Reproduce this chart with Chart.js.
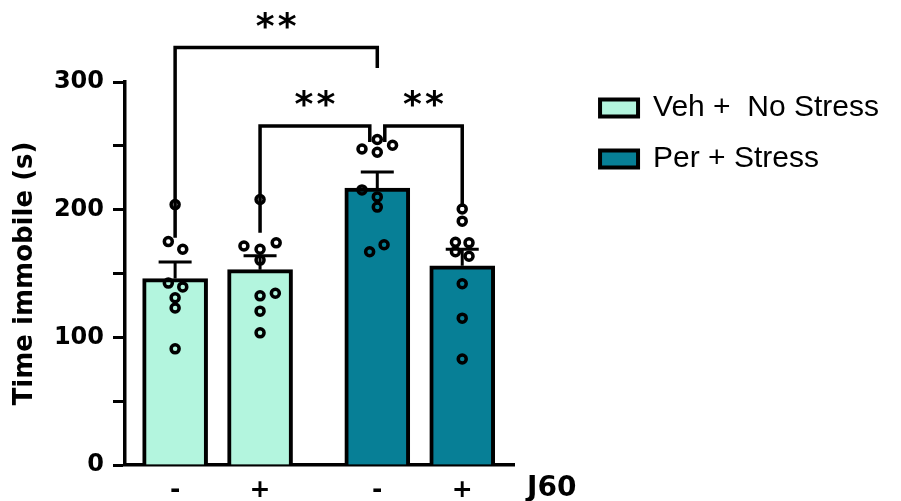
<!DOCTYPE html>
<html>
<head>
<meta charset="utf-8">
<script src="https://cdn.jsdelivr.net/npm/chart.js@4.4.1/dist/chart.umd.min.js"></script>
<style>
  html, body { margin: 0; padding: 0; background: #fff; }
</style>
</head>
<body>
<canvas id="chart" width="901" height="501"></canvas>
<script>
// groups (legend) and bars
const groups = ['Veh +  No Stress', 'Per + Stress'];
const groupFill = ['#b3f5de', '#077f96'];
const xLabels = ['-', '+', '-', '+'];      // J60 treatment under each bar
const barPos = [0, 1, 2.38, 3.38];          // bar centres on the x scale
const barGroup = [0, 0, 1, 1];
const means = [146, 153, 217, 156];
const sem = [13, 11, 12.5, 13];

// individual animals, one list per bar
const pts1 = [204, 175, 169, 142.5, 139.5, 131, 123, 91];
const pts2 = [208, 171.5, 169, 174, 160.5, 132.5, 134.5, 120.5, 103.5];
const pts3 = [255, 247.5, 245, 250.5, 215.5, 210, 202, 172.5, 167];
const pts4 = [200.5, 191, 174.5, 174, 167, 163.5, 142, 115, 83];
// sideways spread of the points (x units)
const jit1 = [0, -0.08, 0.09, -0.08, 0.09, 0, 0, 0];
const jit2 = [0, -0.19, 0, 0.19, 0, 0, 0.18, 0, 0];
const jit3 = [0, -0.18, 0, 0.18, -0.18, 0, 0, 0.08, -0.09];
const jit4 = [0, 0, -0.08, 0.08, -0.08, 0.08, 0, 0, 0];
const points = [pts1, pts2, pts3, pts4];
const jitter = [jit1, jit2, jit3, jit4];

const yTicks = [0, 100, 200, 300];

// significance brackets: bar indices, bracket height, leg ends
const brackets = [
  { from: 0, to: 2, y: 327, yFrom: 178, yTo: 311, text: '**', shiftFrom: 0, shiftTo: 0 },
  { from: 1, to: 2, y: 265.5, yFrom: 182, yTo: 253, text: '**', shiftFrom: 0, shiftTo: -1 },
  { from: 2, to: 3, y: 265.5, yFrom: 253, yTo: 202, text: '**', shiftFrom: 1, shiftTo: 0 }
];

const boldFont = size => ({ family: 'DejaVu Sans', size: size, weight: 'bold' });

const barSets = groups.map((g, gi) => ({
  type: 'bar',
  label: g,
  data: barPos.map((p, i) => ({ x: p, y: means[i], bar: i })).filter(d => barGroup[d.bar] === gi),
  backgroundColor: groupFill[gi],
  borderColor: '#000',
  borderWidth: 4,
  barThickness: 65,
  grouped: false,
  order: 2,
  yAxisID: 'y'
}));

const dotSets = points.map((vals, bi) => ({
  type: 'scatter',
  label: 'pts' + bi,
  data: vals.map((v, k) => ({ x: barPos[bi] + jitter[bi][k], y: v })),
  pointRadius: 4,
  pointBorderWidth: 3.5,
  pointBorderColor: '#000',
  pointBackgroundColor: 'rgba(0,0,0,0)',
  order: 1,
  yAxisID: 'y'
}));

// the legend on the right is capped to a small share of the width by default
const wideLegend = {
  id: 'wideLegend',
  beforeLayout(chart) {
    const lg = chart.legend;
    if (!lg || lg._wide) return;
    const fit = lg.fit;
    lg.fit = function () { this.maxWidth = 400; fit.call(this); };
    lg._wide = true;
  }
};

const annotate = {
  id: 'annotate',
  afterDatasetDraw(chart, args) {
    if (args.meta.type !== 'bar') return;
    const { ctx, scales: { x, y } } = chart;
    ctx.save();
    ctx.strokeStyle = '#000';
    ctx.lineWidth = 3;
    args.meta._dataset.data.forEach(d => {
      const px = x.getPixelForValue(d.x);
      const top = y.getPixelForValue(means[d.bar] + sem[d.bar]);
      ctx.beginPath();
      ctx.moveTo(px, y.getPixelForValue(means[d.bar]));
      ctx.lineTo(px, top);
      ctx.moveTo(px - 16.5, top);
      ctx.lineTo(px + 16.5, top);
      ctx.stroke();
    });
    ctx.restore();
  },
  afterDatasetsDraw(chart) {
    const { ctx, scales: { x, y } } = chart;
    ctx.save();
    ctx.strokeStyle = '#000';
    ctx.fillStyle = '#000';
    ctx.lineWidth = 3.5;
    ctx.lineJoin = 'miter';
    brackets.forEach(b => {
      const x1 = x.getPixelForValue(barPos[b.from]) + b.shiftFrom * 7.5;
      const x2 = x.getPixelForValue(barPos[b.to]) + b.shiftTo * 7.5;
      const yy = y.getPixelForValue(b.y);
      ctx.beginPath();
      ctx.moveTo(x1, y.getPixelForValue(b.yFrom));
      ctx.lineTo(x1, yy);
      ctx.lineTo(x2, yy);
      ctx.lineTo(x2, y.getPixelForValue(b.yTo));
      ctx.stroke();
      ctx.font = 'bold 36px "DejaVu Sans"';
      ctx.textAlign = 'center';
      ctx.textBaseline = 'alphabetic';
      const mid = (x1 + x2) / 2;
      ctx.fillText('*', mid - 11, yy - 10);
      ctx.fillText('*', mid + 11, yy - 10);
    });
    // J60 label at the end of the x axis
    ctx.font = 'bold 28px "DejaVu Sans"';
    ctx.textAlign = 'left';
    ctx.textBaseline = 'middle';
    ctx.fillText('J60', x.right + 13, x.top + 23.5);
    ctx.restore();
  }
};

Chart.defaults.color = '#000';

new Chart(document.getElementById('chart'), {
  type: 'bar',
  data: { datasets: [...barSets, ...dotSets] },
  options: {
    responsive: false,
    devicePixelRatio: 1,
    animation: false,
    layout: { padding: { top: 72, right: 12, left: 0, bottom: 0 } },
    plugins: {
      tooltip: { enabled: false },
      legend: {
        position: 'right',
        align: 'start',
        labels: {
          boxWidth: 38,
          boxHeight: 17,
          padding: 21,
          font: { family: 'Liberation Sans', size: 30 },
          filter: item => item.datasetIndex < groups.length
        }
      }
    },
    scales: {
      x: {
        type: 'linear',
        min: -0.59,
        max: 3.99,
        offset: false,
        grid: { display: false, drawTicks: false },
        border: { color: '#000', width: 3.5 },
        ticks: {
          padding: 10,
          maxRotation: 0,
          font: boldFont(25),
          callback: (v, i) => xLabels[i]
        },
        afterBuildTicks: s => { s.ticks = barPos.map(v => ({ value: v })); },
        afterFit: s => { s.height = 36; }
      },
      y: {
        position: 'left',
        min: 0,
        max: 300,
        ticks: {
          stepSize: 50,
          padding: 9,
          font: boldFont(24),
          callback: v => (yTicks.includes(v) ? v : '')
        },
        grid: { drawOnChartArea: false, drawTicks: true, tickLength: 12, tickWidth: 3, tickColor: '#000' },
        border: { color: '#000', width: 3.5 },
        title: {
          display: true,
          text: 'Time immobile (s)',
          font: boldFont(26),
          padding: { top: 10, bottom: 0 }
        },
        afterFit: s => { s.width = 125; s.paddingTop = 82; }
      },
      yR: {
        position: 'right',
        min: 0,
        max: 1,
        ticks: { display: false },
        grid: { display: false },
        border: { display: false },
        afterFit: s => { s.width = 65; }
      }
    }
  },
  plugins: [wideLegend, annotate]
});
</script>
</body>
</html>
